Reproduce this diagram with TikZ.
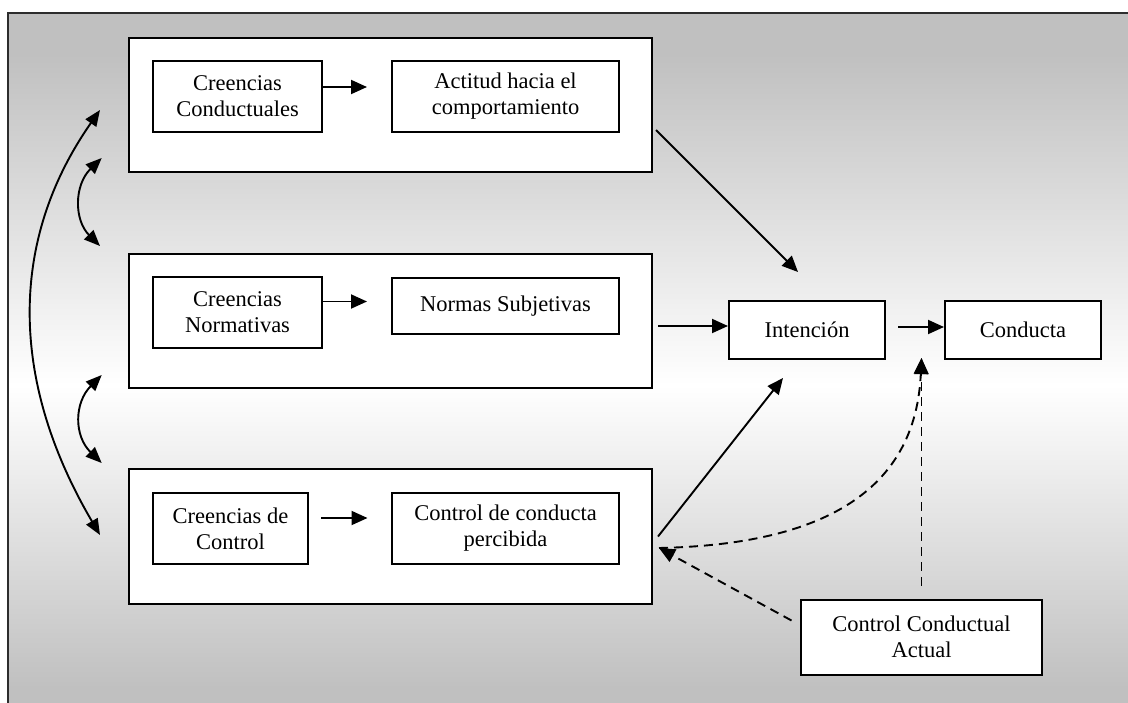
\documentclass[tikz,border=0pt]{standalone}
\usepackage{fontspec}
\setmainfont{Liberation Serif}
\usetikzlibrary{arrows.meta}
\definecolor{bggray}{RGB}{192,192,192}
\definecolor{framegray}{RGB}{45,45,45}
% light band across the middle of the panel, grey at top and bottom
\pgfdeclareverticalshading{bgfade}{100bp}{color(0bp)=(bggray); color(26bp)=(bggray); color(48bp)=(white); color(72bp)=(bggray); color(100bp)=(bggray)}
\begin{document}
\begin{tikzpicture}[x=1pt,y=-1pt,
  box/.style={draw, fill=white, line width=2pt, align=center, inner sep=0pt,
    font=\fontsize{22.5}{26}\selectfont},
  grp/.style={draw, fill=white, line width=2pt, inner sep=0pt},
  arr/.style={line width=1.9pt, -{Triangle[length=16pt,width=14pt]}},
  dasharr/.style={arr, dash pattern=on 9pt off 6pt},
  dbl/.style={line width=1.9pt, {Triangle[length=16pt,width=13pt]}-{Triangle[length=16pt,width=13pt]}}]
\useasboundingbox (0,0) rectangle (1128,702);
\clip (0,0) rectangle (1128,702);
\fill[white] (0,0) rectangle (1128,702);
\shade[shading=bgfade] (8,13) rectangle (1128,702);
\draw[framegray, line width=2.2pt] (8,13) rectangle (1140,715);

% three groups of beliefs
\node[grp, minimum width=523pt, minimum height=134pt] (g1) at (390.5,105) {};
\node[grp, minimum width=523pt, minimum height=134pt] (g2) at (390.5,321) {};
\node[grp, minimum width=523pt, minimum height=135pt] (g3) at (390.5,536.5) {};

\node[box, minimum width=169pt, minimum height=71pt] (cc) at (237.5,96.5) {Creencias\\Conductuales};
\node[box, minimum width=227pt, minimum height=71pt] (act) at (505.5,96.5) {Actitud hacia el\\comportamiento};
\node[box, minimum width=169pt, minimum height=71pt] (cn) at (237.5,312.5) {Creencias\\Normativas};
\node[box, minimum width=227pt, minimum height=56pt] (ns) at (505.5,306) {Normas Subjetivas};
\node[box, minimum width=155pt, minimum height=71pt] (cdc) at (230.5,528.5) {Creencias de\\Control};
\node[box, minimum width=227pt, minimum height=71pt] (ccp) at (505.5,528.5) {Control de conducta\\percibida};

\node[box, minimum width=156pt, minimum height=58pt] (int) at (807,330) {Intención};
\node[box, minimum width=156pt, minimum height=58pt] (con) at (1023,330) {Conducta};
\node[box, minimum width=241pt, minimum height=75pt] (cca) at (921.5,637) {Control Conductual\\Actual};

% arrows inside the groups
\draw[arr, shorten >=24pt] ([yshift=9.5pt]cc.east) -- ([yshift=9.5pt]cc.east -| act.west);
\draw[arr, shorten >=24pt] ([yshift=11pt]cn.east) -- ([yshift=11pt]cn.east -| ns.west);
\draw[arr, shorten <=12pt, shorten >=23.5pt] ([yshift=10.5pt]cdc.east) -- ([yshift=10.5pt]cdc.east -| ccp.west);

% arrows towards intention and behaviour
\draw[arr] ([xshift=3pt,yshift=-25pt]g1.east) -- ([xshift=-9pt,yshift=28pt]int.north);
\draw[arr, shorten <=5pt] ([yshift=4pt]int.west -| g2.east) -- ([yshift=4pt]int.west);
\draw[arr] ([xshift=5pt]g3.east) -- ([xshift=-24pt,yshift=-18pt]int.south);
\draw[arr, shorten <=12pt] ([yshift=3pt]int.east) -- ([yshift=3pt]con.west);

% dashed links of actual control
\coordinate (pcb) at ([xshift=6pt,yshift=-11.5pt]g3.east);
\coordinate (cdt) at ([yshift=2pt]cca.north |- con.south);
\draw[dasharr] (pcb) .. controls (800,545) and (915,505) .. (cdt);
\draw[dasharr, shorten <=13pt] (cca.north) -- (cdt);
\draw[dasharr] ([xshift=-8.5pt,yshift=16.5pt]cca.west) -- (pcb);

% correlations between the groups
\coordinate (lt) at (100,110);
\coordinate (lb) at (100,535);
\coordinate (s1t) at (101.7,158);
\coordinate (s1b) at (100,246);
\coordinate (s2t) at (101.7,375);
\coordinate (s2b) at (101.7,463);
\draw[dbl] (lt) .. controls (9,240) and (9,380) .. (lb);
\draw[dbl] (s1t) .. controls (74,185) and (74,220) .. (s1b);
\draw[dbl] (s2t) .. controls (74,403) and (74,436) .. (s2b);
\end{tikzpicture}
\end{document}
